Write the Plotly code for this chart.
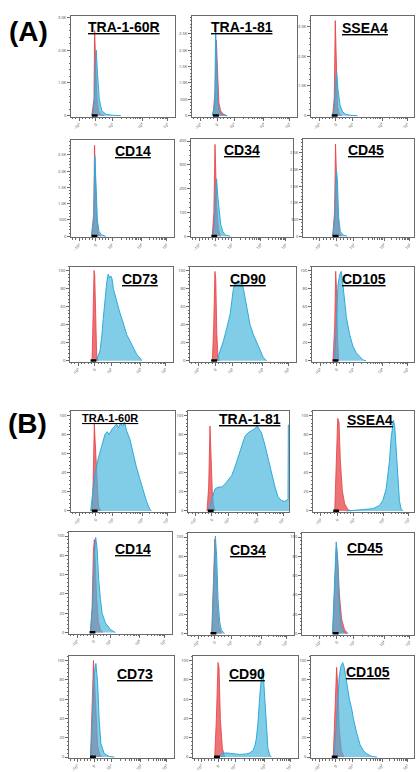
import math
import plotly.graph_objects as go

W, H = 417, 772

# ---------------- axis tick definitions (display units: 0 -> 0, 1 -> 10^3, 2.78 -> 10^4, 4.31 -> 10^5)
X_TICKVALS = [-1, 0, 1, 2.78, 4.31]
X_TICKTEXT = ["-10³", "0", "10³", "10⁴", "10⁵"]

GATE_X = [-0.25, 0.1]
GATE_Y = [0, 0]

# ---------------- (A) histograms
a_tra160_red_x = [-0.25, -0.12, -0.08, -0.03, 0.05, 0.15, 0.3, 0.5]
a_tra160_red_y = [0, 500, 2600, 1800, 600, 150, 30, 0]
a_tra160_blue_x = [-0.2, -0.1, -0.02, 0.02, 0.08, 0.2, 0.35, 0.6, 1.0, 1.5]
a_tra160_blue_y = [0, 400, 1500, 2000, 1400, 500, 150, 40, 10, 0]

a_tra181_red_x = [-0.25, -0.12, -0.05, 0.02, 0.1, 0.2, 0.35, 0.55]
a_tra181_red_y = [0, 800, 2300, 1200, 400, 150, 50, 0]
a_tra181_blue_x = [-0.3, -0.15, -0.09, -0.03, 0.03, 0.15, 0.3, 0.6]
a_tra181_blue_y = [0, 300, 2600, 1500, 400, 80, 20, 0]

a_ssea4_red_x = [-0.2, -0.1, -0.04, 0.02, 0.1, 0.2, 0.35]
a_ssea4_red_y = [0, 600, 3200, 1500, 300, 50, 0]
a_ssea4_blue_x = [-0.2, -0.08, 0.0, 0.04, 0.12, 0.25, 0.4, 0.6, 0.9, 1.3]
a_ssea4_blue_y = [0, 300, 1200, 1470, 900, 350, 130, 40, 10, 0]

a_cd14_red_x = [-0.25, -0.12, -0.07, -0.02, 0.05, 0.15, 0.3]
a_cd14_red_y = [0, 700, 2800, 2000, 600, 100, 0]
a_cd14_blue_x = [-0.25, -0.12, -0.05, 0.02, 0.1, 0.2, 0.35, 0.6]
a_cd14_blue_y = [0, 600, 2450, 1600, 500, 150, 40, 0]

a_cd34_red_x = [-0.2, -0.1, -0.03, 0.02, 0.08, 0.18, 0.3]
a_cd34_red_y = [0, 100, 386, 300, 120, 30, 0]
a_cd34_blue_x = [-0.15, -0.05, 0.03, 0.07, 0.14, 0.22, 0.32, 0.45, 0.6, 0.9]
a_cd34_blue_y = [0, 60, 200, 241, 170, 100, 50, 20, 5, 0]

a_cd45_red_x = [-0.25, -0.14, -0.08, -0.02, 0.05, 0.15, 0.3]
a_cd45_red_y = [0, 700, 2760, 2000, 600, 100, 0]
a_cd45_blue_x = [-0.25, -0.12, -0.03, 0.03, 0.1, 0.2, 0.35, 0.6]
a_cd45_blue_y = [0, 500, 1980, 1700, 600, 150, 40, 0]

a_cd73_red_x = [-0.16, -0.1, -0.04, 0.0, 0.05, 0.12, 0.2]
a_cd73_red_y = [0, 40, 100, 95, 40, 5, 0]
a_cd73_blue_x = [0.0, 0.12, 0.32, 0.42, 0.52, 0.62, 0.73, 0.82, 0.89, 0.97, 1.05, 1.13,
                 1.33, 1.53, 1.73, 1.94, 2.14, 2.34, 2.55, 2.75, 2.85]
a_cd73_blue_y = [0, 1.8, 10.9, 25.5, 47, 69, 87, 96, 92, 94, 91, 80,
                 65, 53, 42, 29, 22, 15, 7, 3, 0]

a_cd90_red_x = [-0.18, -0.1, -0.03, 0.02, 0.08, 0.15, 0.22]
a_cd90_red_y = [0, 40, 99, 90, 30, 5, 0]
a_cd90_blue_x = [0.08, 0.27, 0.47, 0.67, 0.86, 0.96, 1.06, 1.16, 1.26, 1.35, 1.45, 1.55,
                 1.65, 1.85, 2.04, 2.24, 2.43, 2.63, 2.82, 3.02]
a_cd90_blue_y = [0, 10.9, 21.8, 36.4, 50.9, 65.5, 80, 85.5, 87.3, 89, 85.5, 87.3,
                 80, 58, 40, 29, 20, 11, 3.6, 0]

a_cd105_red_x = [-0.22, -0.12, -0.06, -0.01, 0.05, 0.12]
a_cd105_red_y = [0, 40, 99, 80, 25, 0]
a_cd105_blue_x = [-0.12, -0.02, 0.08, 0.18, 0.28, 0.38, 0.48, 0.59, 0.79, 0.99, 1.19, 1.39, 1.59, 1.79]
a_cd105_blue_y = [0, 47.6, 84, 95, 99, 84, 66, 48, 29, 16, 9, 5, 1, 0]

# ---------------- (B) histograms
b_tra160_red_x = [-0.25, -0.17, -0.1, -0.04, 0.05, 0.15, 0.3]
b_tra160_red_y = [0, 30, 91, 70, 25, 5, 0]
b_tra160_blue_x = [-0.32, -0.2, -0.06, 0.14, 0.34, 0.54, 0.68, 0.8, 0.94, 1.08, 1.24, 1.36,
                   1.48, 1.6, 1.72, 1.84, 2.04, 2.23, 2.4, 2.63, 2.83, 3.04, 3.23, 3.33]
b_tra160_blue_y = [0, 17, 38, 55, 68, 80, 83, 80, 85, 88, 91, 87,
                   92, 89, 93, 84, 75, 61, 48, 34, 21, 10, 2, 0]

b_tra181_red_x = [-0.3, -0.2, -0.12, -0.06, 0.02, 0.1, 0.2]
b_tra181_red_y = [0, 25, 89, 60, 20, 5, 0]
b_tra181_blue_x = [-0.22, -0.02, 0.18, 0.38, 0.58, 0.78, 0.98, 1.19, 1.39, 1.58, 1.79, 1.99,
                   2.19, 2.39, 2.59, 2.73, 2.85, 2.99, 3.19, 3.39, 3.6, 3.8, 3.99, 4.2,
                   4.4, 4.6, 4.62, 4.66]
b_tra181_blue_y = [0, 11, 23, 25, 25, 28, 32, 37, 46, 56, 68, 78,
                   82, 84, 86, 89, 86, 82, 70, 55, 40, 26, 15, 11,
                   10, 12, 90, 90]

b_ssea4_red_x = [-0.16, -0.06, 0.02, 0.1, 0.18, 0.3, 0.44, 0.64, 0.84]
b_ssea4_red_y = [0, 52, 97, 93, 52, 21, 7.5, 1.4, 0]
b_ssea4_blue_x = [0.54, 1.34, 2.14, 2.54, 2.74, 2.94, 3.04, 3.14, 3.24, 3.3, 3.38, 3.46,
                  3.54, 3.64, 3.74, 3.84, 3.94]
b_ssea4_blue_y = [0, 1.4, 2.4, 5.8, 11, 23, 35, 52, 76, 88, 95, 88,
                  66, 35, 11, 2.4, 0]

b_cd14_red_x = [-0.2, -0.1, -0.02, 0.04, 0.1, 0.18, 0.28, 0.4, 0.55]
b_cd14_red_y = [0, 25, 85, 96.5, 70, 35, 12, 3, 0]
b_cd14_blue_x = [-0.2, -0.06, 0.04, 0.12, 0.2, 0.3, 0.41, 0.51, 0.71, 1.02, 1.32]
b_cd14_blue_y = [0, 30, 80, 98.6, 88, 55, 34, 20, 10, 3, 0]

b_cd34_red_x = [-0.18, -0.08, 0.01, 0.08, 0.15, 0.25, 0.4]
b_cd34_red_y = [0, 45, 98, 70, 30, 8, 0]
b_cd34_blue_x = [-0.16, -0.04, 0.04, 0.12, 0.2, 0.3, 0.4, 0.6]
b_cd34_blue_y = [0, 52, 101, 79, 35, 12, 3.4, 0]

b_cd45_red_x = [-0.24, -0.12, -0.03, 0.05, 0.15, 0.28, 0.45, 0.65]
b_cd45_red_y = [0, 45, 90, 75, 40, 15, 4, 0]
b_cd45_blue_x = [-0.26, -0.14, -0.04, 0.04, 0.12, 0.24, 0.39, 0.59]
b_cd45_blue_y = [0, 52, 95, 79, 35, 8.4, 1.7, 0]

b_cd73_red_x = [-0.22, -0.14, -0.04, 0.02, 0.1, 0.2, 0.32, 0.45]
b_cd73_red_y = [0, 40, 100, 80, 40, 12, 3, 0]
b_cd73_blue_x = [-0.2, -0.1, 0.0, 0.1, 0.2, 0.3, 0.4, 0.6, 0.9, 1.2]
b_cd73_blue_y = [0, 37.5, 85, 97, 78, 37.5, 13.7, 3.4, 0.7, 0]

b_cd90_red_x = [-0.21, -0.11, -0.01, 0.05, 0.13, 0.25, 0.39]
b_cd90_red_y = [0, 39, 98, 93, 39, 9, 0]
b_cd90_blue_x = [-0.11, 0.09, 0.29, 0.49, 0.88, 1.28, 1.68, 1.88, 2.07, 2.17, 2.27, 2.37,
                 2.47, 2.57, 2.63, 2.69, 2.77, 2.87, 2.96, 3.07, 3.17]
b_cd90_blue_y = [0, 2, 4, 4.3, 3.3, 2.7, 3.3, 4.3, 6.7, 11, 19, 36,
                 63, 83, 92, 84, 63, 29, 9, 2, 0]

b_cd105_red_x = [-0.16, -0.06, 0.04, 0.12, 0.2, 0.32, 0.48]
b_cd105_red_y = [0, 40, 93, 73, 30, 7, 0]
b_cd105_blue_x = [-0.1, 0.0, 0.1, 0.2, 0.3, 0.41, 0.5, 0.65, 0.81, 0.95, 1.05, 1.25,
                  1.45, 1.65, 1.86, 2.16, 2.47]
b_cd105_blue_y = [0, 30, 60, 83, 94, 98, 93, 76, 60, 50, 40, 25,
                  13, 6.6, 3.3, 0.7, 0]

# ---------------- y axis settings per panel kind
Y_K3 = dict(tickvals=[0, 1000, 2000, 3000], ticktext=["0", "1.0K", "2.0K", "3.0K"], minor=200)
Y_K25 = dict(tickvals=[0, 500, 1000, 1500, 2000, 2500],
             ticktext=["0", "500", "1.0K", "1.5K", "2.0K", "2.5K"], minor=100)
Y_400 = dict(tickvals=[0, 100, 200, 300, 400], ticktext=["0", "100", "200", "300", "400"], minor=20)
Y_100 = dict(tickvals=[0, 20, 40, 60, 80, 100], ticktext=["0", "20", "40", "60", "80", "100"], minor=4)

# panels: title, red x/y, blue x/y, pixel box (left, right, top, bottom), y top, y ticks,
# x range, title centre (px), title size
panels = [
    ("TRA-1-60R", a_tra160_red_x, a_tra160_red_y, a_tra160_blue_x, a_tra160_blue_y,
     (71, 175, 15, 117), 3050, Y_K3, (-1.5, 4.75), (124, 26), 14),
    ("TRA-1-81", a_tra181_red_x, a_tra181_red_y, a_tra181_blue_x, a_tra181_blue_y,
     (192, 297, 15, 117), 3050, Y_K25, (-1.5, 4.75), (242, 26), 14),
    ("SSEA4", a_ssea4_red_x, a_ssea4_red_y, a_ssea4_blue_x, a_ssea4_blue_y,
     (311, 414, 15, 117), 3360, Y_K3, (-1.5, 4.7), (365, 27), 14),
    ("CD14", a_cd14_red_x, a_cd14_red_y, a_cd14_blue_x, a_cd14_blue_y,
     (71, 174, 141, 239), 2950, Y_K25, (-1.5, 4.75), (133, 152), 14),
    ("CD34", a_cd34_red_x, a_cd34_red_y, a_cd34_blue_x, a_cd34_blue_y,
     (191, 293, 140, 239), 407, Y_400, (-1.5, 4.75), (242, 151), 14),
    ("CD45", a_cd45_red_x, a_cd45_red_y, a_cd45_blue_x, a_cd45_blue_y,
     (303, 414, 140, 239), 2900, Y_K25, (-2.0, 4.55), (366, 151), 14),
    ("CD73", a_cd73_red_x, a_cd73_red_y, a_cd73_blue_x, a_cd73_blue_y,
     (70, 173, 269, 365), 104, Y_100, (-1.5, 4.75), (139.5, 281.5), 14),
    ("CD90", a_cd90_red_x, a_cd90_red_y, a_cd90_blue_x, a_cd90_blue_y,
     (190, 296, 269, 365), 104, Y_100, (-1.5, 4.75), (248, 281), 14),
    ("CD105", a_cd105_red_x, a_cd105_red_y, a_cd105_blue_x, a_cd105_blue_y,
     (312, 414, 269, 365), 104, Y_100, (-1.5, 4.7), (363.5, 281.5), 14),
    ("TRA-1-60R", b_tra160_red_x, b_tra160_red_y, b_tra160_blue_x, b_tra160_blue_y,
     (71, 175, 415, 517), 104.5, Y_100, (-1.5, 4.75), (110, 422), 11),
    ("TRA-1-81", b_tra181_red_x, b_tra181_red_y, b_tra181_blue_x, b_tra181_blue_y,
     (188, 289, 415, 517), 104.5, Y_100, (-1.45, 4.66), (249.5, 423), 14),
    ("SSEA4", b_ssea4_red_x, b_ssea4_red_y, b_ssea4_blue_x, b_ssea4_blue_y,
     (313, 414, 415, 517), 104.5, Y_100, (-1.47, 4.62), (370, 423.5), 14),
    ("CD14", b_cd14_red_x, b_cd14_red_y, b_cd14_blue_x, b_cd14_blue_y,
     (69, 172, 537, 640), 104.5, Y_100, (-1.5, 4.75), (133, 554), 14),
    ("CD34", b_cd34_red_x, b_cd34_red_y, b_cd34_blue_x, b_cd34_blue_y,
     (188, 294, 538, 641), 104.5, Y_100, (-1.6, 4.75), (248, 555), 14),
    ("CD45", b_cd45_red_x, b_cd45_red_y, b_cd45_blue_x, b_cd45_blue_y,
     (302, 414, 538, 641), 104.5, Y_100, (-2.06, 4.55), (365, 553), 14),
    ("CD73", b_cd73_red_x, b_cd73_red_y, b_cd73_blue_x, b_cd73_blue_y,
     (69, 174, 663, 766), 104.5, Y_100, (-1.5, 4.75), (135, 680.5), 14),
    ("CD90", b_cd90_red_x, b_cd90_red_y, b_cd90_blue_x, b_cd90_blue_y,
     (193, 298, 663, 766), 104.5, Y_100, (-1.5, 4.75), (247, 680.5), 14),
    ("CD105", b_cd105_red_x, b_cd105_red_y, b_cd105_blue_x, b_cd105_blue_y,
     (311, 414, 663, 766), 104.5, Y_100, (-1.5, 4.7), (368, 678.5), 14),
]

RED_LINE = "rgb(230,60,65)"
RED_FILL = "rgba(235,90,95,0.85)"
BLUE_LINE = "rgb(45,170,220)"
BLUE_FILL = "rgba(70,180,220,0.68)"
FRAME = "#6a6a6a"

# minor x ticks (biexponential-like display)
minor_x = [-1.4, -1.2, -0.8, -0.6, -0.4, -0.2, 0.2, 0.4, 0.6, 0.8]
for k in range(2, 10):
    minor_x.append(1 + math.log10(k) * (2.78 - 1))
    minor_x.append(2.78 + math.log10(k) * (4.31 - 2.78))

fig = go.Figure()
annotations = []
layout_axes = {}

for i, (title, rx, ry, bx, by, box, ytop, yt, xr, tpos, tsize) in enumerate(panels, start=1):
    left, right, top, bottom = box
    xa = "x" if i == 1 else f"x{i}"
    ya = "y" if i == 1 else f"y{i}"
    fig.add_trace(go.Scatter(x=rx, y=ry, xaxis=xa, yaxis=ya, mode="lines", fill="tozeroy",
                             line=dict(color=RED_LINE, width=0.8), fillcolor=RED_FILL,
                             hoverinfo="skip", showlegend=False))
    fig.add_trace(go.Scatter(x=bx, y=by, xaxis=xa, yaxis=ya, mode="lines", fill="tozeroy",
                             line=dict(color=BLUE_LINE, width=1), fillcolor=BLUE_FILL,
                             hoverinfo="skip", showlegend=False))
    fig.add_trace(go.Scatter(x=GATE_X, y=GATE_Y, xaxis=xa, yaxis=ya, mode="lines",
                             line=dict(color="black", width=3), hoverinfo="skip",
                             showlegend=False, cliponaxis=False))
    xkey = "xaxis" if i == 1 else f"xaxis{i}"
    ykey = "yaxis" if i == 1 else f"yaxis{i}"
    layout_axes[xkey] = dict(
        domain=[left / W, right / W], anchor=ya, range=list(xr),
        tickmode="array", tickvals=X_TICKVALS, ticktext=X_TICKTEXT,
        tickfont=dict(size=4, color="#444"), tickangle=-45,
        ticks="outside", ticklen=3, tickwidth=0.8, tickcolor=FRAME,
        minor=dict(tickvals=minor_x, ticks="outside", ticklen=1.5, tickwidth=0.6, tickcolor=FRAME),
        showline=True, linecolor=FRAME, linewidth=1, mirror=True,
        showgrid=False, zeroline=False, fixedrange=True,
    )
    layout_axes[ykey] = dict(
        domain=[1 - bottom / H, 1 - top / H], anchor=xa, range=[-ytop * 0.01, ytop],
        tickmode="array", tickvals=yt["tickvals"], ticktext=yt["ticktext"],
        tickfont=dict(size=4, color="#444"),
        ticks="outside", ticklen=3, tickwidth=0.8, tickcolor=FRAME,
        minor=dict(dtick=yt["minor"], tick0=0, ticks="outside", ticklen=1.5, tickwidth=0.6,
                   tickcolor=FRAME),
        showline=True, linecolor=FRAME, linewidth=1, mirror=True,
        showgrid=False, zeroline=False, fixedrange=True,
    )
    annotations.append(dict(
        x=tpos[0] / W, y=1 - tpos[1] / H, xref="paper", yref="paper",
        text=f"<b><u>{title}</u></b>", showarrow=False, xanchor="center", yanchor="middle",
        font=dict(family="Liberation Sans, Arial, sans-serif", size=tsize, color="black"),
    ))

annotations.append(dict(x=28 / W, y=1 - 30.5 / H, xref="paper", yref="paper", text="<b>(A)</b>",
                        showarrow=False, xanchor="center", yanchor="middle",
                        font=dict(family="Liberation Sans, Arial, sans-serif", size=28, color="black")))
annotations.append(dict(x=27.5 / W, y=1 - 427.5 / H, xref="paper", yref="paper", text="<b>(B)</b>",
                        showarrow=False, xanchor="center", yanchor="middle",
                        font=dict(family="Liberation Sans, Arial, sans-serif", size=28, color="black")))

fig.update_layout(
    width=W, height=H, margin=dict(l=0, r=0, t=0, b=0),
    paper_bgcolor="white", plot_bgcolor="white",
    annotations=annotations, showlegend=False,
    **layout_axes,
)

fig.write_html("out.html", config={"displayModeBar": False},
               post_script="document.body.style.margin='0px';document.body.style.overflow='hidden';")
